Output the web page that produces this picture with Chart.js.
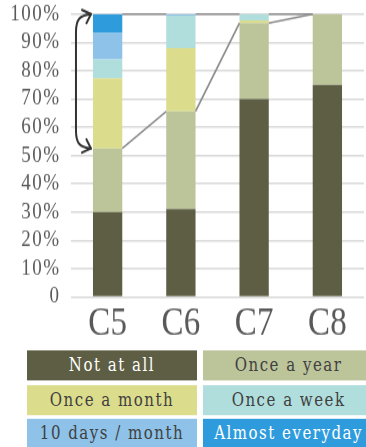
<!DOCTYPE html>
<html>
<head>
<meta charset="utf-8">
<script src="https://cdn.jsdelivr.net/npm/chart.js@4.4.1/dist/chart.umd.min.js"></script>
<style>
  html, body { margin: 0; padding: 0; background: #fff; overflow: hidden; width: 366px; height: 447px; }
  /* whole figure is laid out at a shorter height and stretched vertically */
  #wrap { position: relative; width: 366px; height: 373px; transform: scaleY(1.2); transform-origin: 0 0; }
  #chart { position: absolute; left: 0; top: 0; }
  .key { position: absolute; height: 25.3px; line-height: 25.3px; text-align: center;
         font-family: "DejaVu Serif", serif; font-size: 15px; letter-spacing: 1.5px; white-space: nowrap; }
</style>
</head>
<body>
<div id="wrap">
  <canvas id="chart" width="366" height="373"></canvas>
  <div id="legend"></div>
</div>
<script>
// categories and tick labels
const categories = ['C5', 'C6', 'C7', 'C8'];
const yTicks = [0, 10, 20, 30, 40, 50, 60, 70, 80, 90, 100];

// share of respondents (%) per frequency
const notAtAll   = [30, 31, 70, 75];
const onceYear   = [22.5, 34.6, 26.8, 25];
const onceMonth  = [24.8, 22.4, 1.0, 0];
const onceWeek   = [6.7, 11.4, 2.2, 0];
const tenDays    = [9.3, 0.6, 0, 0];
const everyday   = [6.7, 0, 0, 0];

const seriesNames  = ['Not at all', 'Once a year', 'Once a month', 'Once a week', '10 days / month', 'Almost everyday'];
const seriesColors = ['#5e5e44', '#bcc49a', '#dcdd8c', '#b0dedd', '#8ec2e8', '#2e9cdc'];
const seriesText   = ['#ffffff', '#404040', '#404040', '#404040', '#404040', '#ffffff'];
const seriesData   = [notAtAll, onceYear, onceMonth, onceWeek, tenDays, everyday];

// connector lines between neighbouring bars at the top of these series
const connectorSeries = [1, 5];

const datasets = seriesData.map((d, i) => ({
  label: seriesNames[i],
  data: d,
  backgroundColor: seriesColors[i],
  borderWidth: 0,
  barPercentage: 0.4,
  categoryPercentage: 1.0
}));

function cumulative(upTo, idx) {
  let s = 0;
  for (let k = 0; k <= upTo; k++) s += seriesData[k][idx];
  return s;
}

// wider spacing for the percentage labels on the value axis
const spacedTicks = {
  id: 'spacedTicks',
  afterLayout(chart) {
    const scale = chart.scales.y;
    if (scale._spaced) return;
    const orig = scale.drawLabels;
    scale.drawLabels = function (area) {
      const ctx = this.ctx;
      ctx.save();
      ctx.letterSpacing = '1.5px';
      orig.call(this, area);
      ctx.restore();
    };
    scale._spaced = true;
  }
};

const connectors = {
  id: 'connectors',
  afterDatasetsDraw(chart) {
    const ctx = chart.ctx;
    const y = chart.scales.y;
    const bars = chart.getDatasetMeta(0).data;
    ctx.save();
    ctx.strokeStyle = '#8c8c8c';
    ctx.lineWidth = 1.6;
    connectorSeries.forEach(s => {
      for (let i = 0; i < categories.length - 1; i++) {
        const a = bars[i], b = bars[i + 1];
        ctx.beginPath();
        ctx.moveTo(a.x + a.width / 2, y.getPixelForValue(cumulative(s, i)));
        ctx.lineTo(b.x - b.width / 2, y.getPixelForValue(cumulative(s, i + 1)));
        ctx.stroke();
      }
    });

    // curved double arrow beside the first bar, spanning the upper segments
    const first = bars[0];
    const tipX = first.x - first.width / 2 - 2;
    const yTop = y.getPixelForValue(100);
    const yBot = y.getPixelForValue(cumulative(1, 0));
    const bx = tipX - 15;
    ctx.strokeStyle = '#333333';
    ctx.lineWidth = 2;
    ctx.lineCap = 'round';
    ctx.lineJoin = 'round';
    ctx.beginPath();
    ctx.moveTo(tipX, yTop);
    ctx.bezierCurveTo(tipX - 11, yTop + 1, bx, yTop + 4, bx, yTop + 15);
    ctx.lineTo(bx, yBot - 15);
    ctx.bezierCurveTo(bx, yBot - 4, tipX - 11, yBot - 1, tipX, yBot);
    ctx.stroke();
    ctx.beginPath();
    ctx.moveTo(tipX - 9, yTop - 3.5);
    ctx.lineTo(tipX, yTop);
    ctx.lineTo(tipX - 4.5, yTop + 7.5);
    ctx.moveTo(tipX - 9, yBot + 3.5);
    ctx.lineTo(tipX, yBot);
    ctx.lineTo(tipX - 4.5, yBot - 7.5);
    ctx.stroke();
    ctx.restore();
  }
};

new Chart(document.getElementById('chart'), {
  type: 'bar',
  data: { labels: categories, datasets },
  options: {
    responsive: false,
    animation: false,
    events: [],
    layout: { padding: { top: 11.7, right: 2, bottom: 80, left: 0 } },
    plugins: { legend: { display: false }, tooltip: { enabled: false } },
    scales: {
      x: {
        stacked: true,
        afterFit(axis) { axis.paddingLeft = 0; axis.paddingRight = 0; },
        grid: { display: false, drawTicks: false },
        border: { display: false },
        ticks: { color: '#595959', padding: 3, font: { family: 'Liberation Serif', size: 33 } }
      },
      y: {
        stacked: true,
        min: 0,
        max: 100,
        afterBuildTicks(axis) { axis.ticks = yTicks.map(v => ({ value: v })); },
        afterFit(axis) { axis.width = 71; axis.paddingTop = 0; axis.paddingBottom = 0; },
        grid: { color: '#d9d9d9', lineWidth: 1.5, drawTicks: false },
        border: { display: false },
        ticks: {
          autoSkip: false,
          color: '#595959',
          padding: 10.5,
          font: { family: 'Liberation Serif', size: 19 },
          callback: v => (v === 0 ? '0' : v + '%')
        }
      }
    }
  },
  plugins: [spacedTicks, connectors]
});

// legend: two columns of coloured boxes
const legend = document.getElementById('legend');
const colLeft = [26.7, 203.3];
const rowTop = [292.2, 321.1, 349.4];
seriesNames.forEach((name, i) => {
  const el = document.createElement('div');
  el.className = 'key';
  el.textContent = name;
  el.style.left = colLeft[i % 2] + 'px';
  el.style.top = rowTop[Math.floor(i / 2)] + 'px';
  el.style.width = '170.6px';
  el.style.background = seriesColors[i];
  el.style.color = seriesText[i];
  legend.appendChild(el);
});
</script>
</body>
</html>
